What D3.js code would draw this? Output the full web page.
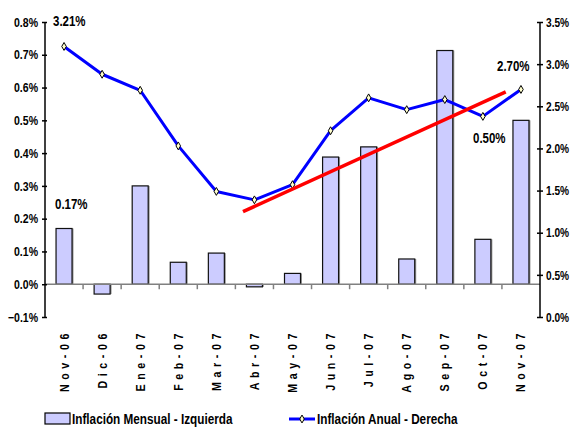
<!DOCTYPE html>
<html>
<head>
<meta charset="utf-8">
<script src="https://cdn.jsdelivr.net/npm/d3@7"></script>
<style>
  body { margin: 0; background: #fff; }
  svg { font-family: "Liberation Sans", Arial, sans-serif; font-weight: bold; }
</style>
</head>
<body>
<div id="chart"></div>
<script>
// data
const months = ["Nov-06", "Dic-06", "Ene-07", "Feb-07", "Mar-07", "Abr-07", "May-07",
                "Jun-07", "Jul-07", "Ago-07", "Sep-07", "Oct-07", "Nov-07"];
const mensual = [0.17, -0.03, 0.30, 0.067, 0.095, -0.008, 0.033, 0.388, 0.419, 0.077, 0.713, 0.137, 0.50];
const anual = [3.21, 2.88, 2.69, 2.03, 1.49, 1.39, 1.57, 2.21, 2.60, 2.46, 2.58, 2.38, 2.70];
const leftTicks = [-0.1, 0, 0.1, 0.2, 0.3, 0.4, 0.5, 0.6, 0.7, 0.8];
const rightTicks = [0, 0.5, 1, 1.5, 2, 2.5, 3, 3.5];
// trend line, x in month index units, y on the right scale
const trendIdx = [4.7, 11.6];
const trendVal = [1.25, 2.67];
// point labels
const barLabels = ["0.17%", "0.50%"];
const lineLabels = ["3.21%", "2.70%"];

const width = 573, height = 430;
const mLeft = 45, mRight = 540, mTop = 22, mBottom = 317;

// no narrow font installed: squeeze glyphs horizontally with a transform
function squeeze(sel, k) {
  sel.each(function () {
    const t = d3.select(this);
    const xx = +t.attr("x") || 0, yy = +t.attr("y") || 0;
    const prev = t.attr("transform") || "";
    t.attr("x", 0).attr("y", 0)
      .attr("transform", prev + " translate(" + xx + "," + yy + ") scale(" + k + ",1)");
  });
}

const svg = d3.select("#chart").append("svg")
  .attr("width", width)
  .attr("height", height);

const x = d3.scaleBand().domain(months).range([mLeft, mRight]).padding(0);
const xi = d3.scaleLinear().domain([0, months.length]).range([mLeft, mRight]);
const yL = d3.scaleLinear().domain([-0.1, 0.8]).range([mBottom, mTop]);
const yR = d3.scaleLinear().domain([0, 3.5]).range([mBottom, mTop]);

const bw = x.bandwidth() * 0.42;
const cx = i => x(months[i]) + x.bandwidth() / 2;

// bar shadows then bars
svg.append("g")
  .selectAll("rect")
  .data(mensual)
  .join("rect")
    .attr("x", (d, i) => cx(i) - bw / 2 + 1.5)
    .attr("y", d => yL(Math.max(d, 0)))
    .attr("width", bw)
    .attr("height", d => Math.abs(yL(d) - yL(0)))
    .attr("fill", "#9a9a9a");

svg.append("g")
  .selectAll("rect")
  .data(mensual)
  .join("rect")
    .attr("x", (d, i) => cx(i) - bw / 2)
    .attr("y", d => yL(Math.max(d, 0)))
    .attr("width", bw)
    .attr("height", d => Math.abs(yL(d) - yL(0)))
    .attr("fill", "#ccccff")
    .attr("stroke", "#111")
    .attr("stroke-width", 1.2);

// category axis at zero
const xAxis = svg.append("g");
xAxis.append("line")
  .attr("x1", mLeft).attr("x2", mRight)
  .attr("y1", yL(0)).attr("y2", yL(0))
  .attr("stroke", "#808080").attr("stroke-width", 1.5);
xAxis.selectAll(".tk")
  .data(d3.range(1, months.length))
  .join("line")
    .attr("x1", d => xi(d)).attr("x2", d => xi(d))
    .attr("y1", yL(0)).attr("y2", yL(0) + 5)
    .attr("stroke", "#808080").attr("stroke-width", 1.5);

// left axis
svg.append("g")
  .attr("transform", "translate(" + mLeft + ",0)")
  .call(d3.axisLeft(yL).tickValues(leftTicks).tickSize(3).tickPadding(4)
    .tickFormat(d => d3.format(".1f")(d) + "%"))
  .attr("font-family", null)
  .call(g => g.select(".domain").remove())
  .call(g => g.selectAll(".tick line").attr("x2", -3).attr("x1", 2).attr("stroke-width", 1.5))
  .call(g => g.selectAll(".tick text").attr("font-size", 13).attr("fill", "#000").call(squeeze, 0.81))
  .call(g => g.append("line").attr("y1", mTop).attr("y2", mBottom)
    .attr("stroke", "#000").attr("stroke-width", 1.5));

// right axis
svg.append("g")
  .attr("transform", "translate(" + mRight + ",0)")
  .call(d3.axisRight(yR).tickValues(rightTicks).tickSize(3).tickPadding(3)
    .tickFormat(d => d3.format(".1f")(d) + "%"))
  .attr("font-family", null)
  .call(g => g.select(".domain").remove())
  .call(g => g.selectAll(".tick line").attr("x1", -3).attr("x2", 3).attr("stroke-width", 1.5))
  .call(g => g.selectAll(".tick text").attr("font-size", 13).attr("fill", "#000").call(squeeze, 0.78))
  .call(g => g.append("line").attr("y1", mTop).attr("y2", mBottom)
    .attr("stroke", "#000").attr("stroke-width", 1.5));

// month labels, clipped at the bottom like the original
svg.append("clipPath").attr("id", "labclip")
  .append("rect").attr("x", 0).attr("y", 320).attr("width", width).attr("height", 73);

svg.append("g")
  .attr("clip-path", "url(#labclip)")
  .selectAll("text")
  .data(months)
  .join("text")
    .attr("transform", (d, i) => "translate(" + (cx(i) + 4.5) + ",329) rotate(-90)")
    .attr("text-anchor", "end")
    .attr("font-size", 13)
    .attr("letter-spacing", "5.6px")
    .text(d => d)
    .call(squeeze, 0.82);

// annual line
const line = d3.line()
  .x((d, i) => cx(i))
  .y(d => yR(d));

svg.append("path")
  .datum(anual)
  .attr("d", line)
  .attr("fill", "none")
  .attr("stroke", "#0000ff")
  .attr("stroke-width", 3)
  .attr("stroke-linejoin", "round");

svg.append("g")
  .selectAll("path")
  .data(anual)
  .join("path")
    .attr("transform", (d, i) => "translate(" + cx(i) + "," + yR(d) + ")")
    .attr("d", d3.symbol(d3.symbolDiamond, 18))
    .attr("fill", "#ffffcc")
    .attr("stroke", "#000")
    .attr("stroke-width", 1);

// red trend
svg.append("line")
  .attr("x1", xi(trendIdx[0] + 0.5)).attr("y1", yR(trendVal[0]))
  .attr("x2", xi(trendIdx[1] + 0.5)).attr("y2", yR(trendVal[1]))
  .attr("stroke", "#ff0000")
  .attr("stroke-width", 3.5);

// value labels
const vl = svg.append("g").attr("font-size", 14);
vl.append("text").attr("x", 53).attr("y", 26).text(lineLabels[0]);
vl.append("text").attr("x", 497).attr("y", 71).text(lineLabels[1]);
vl.append("text").attr("x", 55).attr("y", 209).text(barLabels[0]);
vl.append("text").attr("x", 473).attr("y", 143).text(barLabels[1]);
vl.selectAll("text").call(squeeze, 0.82);

// legend
const lg = svg.append("g").attr("font-size", 14.5);
lg.append("rect")
  .attr("x", 45).attr("y", 413).attr("width", 25).attr("height", 11)
  .attr("fill", "#ccccff").attr("stroke", "#000").attr("stroke-width", 1.2);
lg.append("text").attr("x", 72).attr("y", 424)
  .text("Inflación Mensual - Izquierda");
lg.append("line")
  .attr("x1", 289).attr("x2", 315).attr("y1", 419).attr("y2", 419)
  .attr("stroke", "#0000ff").attr("stroke-width", 3);
lg.append("path")
  .attr("transform", "translate(302,419)")
  .attr("d", d3.symbol(d3.symbolDiamond, 18))
  .attr("fill", "#ffffcc").attr("stroke", "#000");
lg.append("text").attr("x", 317).attr("y", 424)
  .text("Inflación Anual - Derecha");
lg.selectAll("text").call(squeeze, 0.81);
</script>
</body>
</html>
